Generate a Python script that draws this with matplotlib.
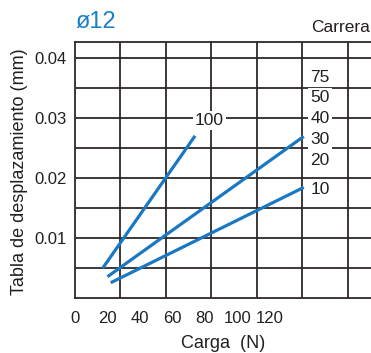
import numpy as np
import matplotlib.pyplot as plt

plt.rcParams['font.family'] = ['Liberation Sans', 'DejaVu Sans']

# displacement vs load for the ø12 size, one curve per stroke group
load_100 = [17, 74]
disp_100 = [0.0050, 0.0271]
load_30 = [20, 141]
disp_30 = [0.0036, 0.0270]
load_10 = [22, 141]
disp_10 = [0.0026, 0.0185]

x_ticks = [0, 20, 40, 60, 80, 100, 120]
y_ticks = [0.01, 0.02, 0.03, 0.04]
y_labels = ['0.01', '0.02', '0.03', '0.04']

strokes = ['75', '50', '40', '30', '20', '10']
stroke_y = [0.0369, 0.0335, 0.0300, 0.0265, 0.0230, 0.0182]

grid_col = '#2f2827'
txt_col = '#231f20'
blue = '#1a78c2'

fig = plt.figure(figsize=(3.71, 3.53), dpi=100)
ax = fig.add_axes([75 / 371, 1 - 298.3 / 353, 318 / 371, 256.6 / 353])
ax.set_xlim(0, 196)
ax.set_ylim(0, 0.0428)

# grid: rows every 0.005, columns are 7 equal divisions
ax.yaxis.remove_overlapping_locs = False
ax.set_yticks(np.arange(0.005, 0.041, 0.005), minor=True)
ax.set_xticks(np.linspace(0, 196, 8)[1:-1], minor=True)
ax.grid(which='minor', color=grid_col, linewidth=1.3)
ax.set_axisbelow(True)
ax.tick_params(which='both', length=0)

ax.set_xticks(x_ticks)
ax.set_xticklabels([str(v) for v in x_ticks], fontsize=12, color=txt_col)
ax.set_yticks(y_ticks)
ax.set_yticklabels(y_labels, fontsize=12, color=txt_col)
ax.tick_params(axis='x', pad=9)
ax.tick_params(axis='y', pad=6)

for s in ax.spines.values():
    s.set_color(grid_col)
    s.set_linewidth(1.3)

for xs, ys in [(load_100, disp_100), (load_30, disp_30), (load_10, disp_10)]:
    ax.plot(xs, ys, color=blue, linewidth=2.3, solid_capstyle='butt', zorder=3)

box = dict(facecolor='white', edgecolor='none', pad=1.5)
ax.text(load_100[1], 0.0297, '100', fontsize=12.5, ha='left', va='center',
        color=txt_col, bbox=box, zorder=4)
for lab, yv in zip(strokes, stroke_y):
    ax.text(145, yv, lab, fontsize=12.5, ha='left', va='center',
            color=txt_col, bbox=box, zorder=4)

fig.text(76 / 371, 1 - 22.5 / 353, 'ø12', fontsize=17, color='#1a80c8',
         ha='left', va='center')
fig.text(370 / 371, 1 - 28 / 353, 'Carrera', fontsize=12.5, color=txt_col,
         ha='right', va='center')
fig.text(223 / 371, 1 - 343 / 353, 'Carga  (N)', fontsize=13, color=txt_col,
         ha='center', va='center')
fig.text(20 / 371, 1 - 172 / 353, 'Tabla de desplazamiento (mm)', fontsize=13,
         color=txt_col, rotation=90, ha='center', va='center')

fig.savefig('out.png', dpi=100)
